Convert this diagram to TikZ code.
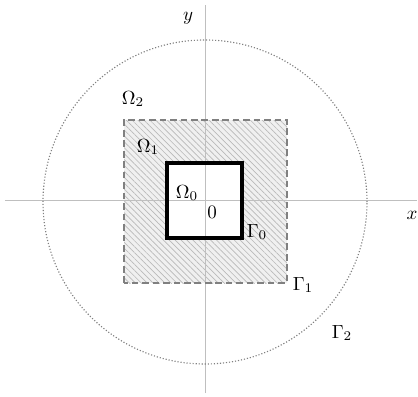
\documentclass[tikz,border=0pt]{standalone}
\usepackage{amsmath,amssymb}
\usepackage{tikz}
\usetikzlibrary{patterns.meta}

\begin{document}
\begin{tikzpicture}[x=0.0185cm,y=0.0185cm]
\useasboundingbox (-205,-196) rectangle (213,200);
% Hatched region Omega_1
\fill[gray!12] (-81,-83) rectangle (82,80);
\fill[pattern={Lines[angle=-45,distance=2.2pt,line width=0.35pt]}, pattern color=gray!55] (-81,-83) rectangle (82,80);
\fill[white] (-38,-38) rectangle (37,37);
% Axes
\draw[black!25, thin] (-200,0) -- (212,0);
\draw[black!25, thin] (0,-193) -- (0,195);
% Boundaries
\draw[gray, densely dotted, semithick] (0,-2) circle (162);
\draw[gray, dash pattern=on 3.5pt off 2pt, thick] (-81,-83) rectangle (82,80);
\draw[black, line width=1.6pt] (-38,-38) rectangle (37,37);
% Labels
\node (ylab) at (-17,182) {$y$};
\node (xlab) at (207,-15) {$x$};
\node (om2) at (-72,101) {$\Omega_2$};
\node (om1) at (-57,53) {$\Omega_1$};
\node (om0) at (-18,7) {$\Omega_0$};
\node (orig) at (7,-12) {$0$};
\node (ga0) at (52,-32) {$\Gamma_0$};
\node (ga1) at (98,-85) {$\Gamma_1$};
\node (ga2) at (137,-133) {$\Gamma_2$};
\end{tikzpicture}
\end{document}
